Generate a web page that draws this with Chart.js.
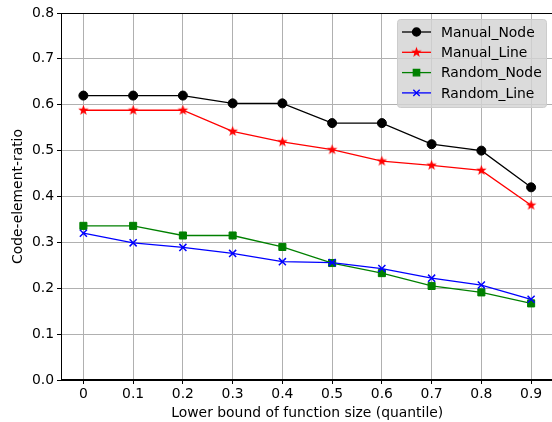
<!DOCTYPE html>
<html>
<head>
<meta charset="utf-8">
<script src="https://cdn.jsdelivr.net/npm/chart.js@4"></script>
<style>
  html, body { margin: 0; padding: 0; background: #fff; overflow: hidden; }
  #wrap { width: 570px; height: 422px; }
</style>
</head>
<body>
<div id="wrap"><canvas id="c" width="560" height="422"></canvas></div>
<script>
const quantiles = [0, 0.1, 0.2, 0.3, 0.4, 0.5, 0.6, 0.7, 0.8, 0.9];
const manualNode = [0.62, 0.62, 0.62, 0.603, 0.603, 0.56, 0.56, 0.514, 0.50, 0.42];
const manualLine = [0.588, 0.588, 0.588, 0.542, 0.519, 0.502, 0.477, 0.468, 0.457, 0.381];
const randomNode = [0.336, 0.336, 0.315, 0.315, 0.29, 0.255, 0.233, 0.205, 0.191, 0.167];
const randomLine = [0.32, 0.299, 0.289, 0.276, 0.258, 0.256, 0.243, 0.222, 0.207, 0.176];
const yTicks = [0, 0.1, 0.2, 0.3, 0.4, 0.5, 0.6, 0.7, 0.8];

const FONT = 'DejaVu Sans';
const FS = 13.9;

// filled star marker (matplotlib '*')
function makeStar(color, r) {
  const s = Math.ceil(r * 2 + 2);
  const cv = document.createElement('canvas');
  cv.width = s; cv.height = s;
  const g = cv.getContext('2d');
  g.fillStyle = color;
  g.beginPath();
  for (let i = 0; i < 10; i++) {
    const rad = i % 2 === 0 ? r : r * 0.42;
    const a = -Math.PI / 2 + i * Math.PI / 5;
    const px = s / 2 + rad * Math.cos(a), py = s / 2 + rad * Math.sin(a);
    if (i === 0) g.moveTo(px, py); else g.lineTo(px, py);
  }
  g.closePath();
  g.fill();
  return cv;
}
const star = makeStar('#ff0000', 5.5);

function pts(vals) { return quantiles.map((q, i) => ({x: q, y: vals[i]})); }

const series = [
  {label: 'Manual_Node', data: pts(manualNode), color: '#000000', pointStyle: 'circle', pointRadius: 4.5},
  {label: 'Manual_Line', data: pts(manualLine), color: '#ff0000', pointStyle: star, pointRadius: 5},
  {label: 'Random_Node', data: pts(randomNode), color: '#008000', pointStyle: 'rect', pointRadius: 5},
  {label: 'Random_Line', data: pts(randomLine), color: '#0000ff', pointStyle: 'crossRot', pointRadius: 5}
];

const frameAndLegend = {
  id: 'frameAndLegend',
  afterDatasetsDraw(chart) {
    const {ctx, chartArea: a} = chart;
    ctx.save();
    ctx.strokeStyle = '#000';
    ctx.lineWidth = 1;
    ctx.strokeRect(a.left + 0.5, a.top + 0.5, a.right - a.left - 1, a.bottom - a.top - 1);

    // legend box inside, upper right
    const bx = 397, by = 19, bw = 149, bh = 88;
    ctx.fillStyle = 'rgba(211,211,211,0.82)';
    ctx.strokeStyle = '#cccccc';
    ctx.beginPath();
    ctx.roundRect(bx + 0.5, by + 0.5, bw, bh, 3);
    ctx.fill();
    ctx.stroke();
    ctx.font = FS + 'px ' + FONT;
    ctx.textBaseline = 'middle';
    series.forEach((s, i) => {
      const y = by + 13 + i * 20.3;
      ctx.strokeStyle = s.color;
      ctx.lineWidth = 1.3;
      ctx.beginPath();
      ctx.moveTo(402, y); ctx.lineTo(431, y);
      ctx.stroke();
      if (s.pointStyle === star) {
        ctx.drawImage(star, 416.5 - star.width / 2, y - star.height / 2);
      } else {
        ctx.fillStyle = s.color;
        ctx.strokeStyle = s.color;
        Chart.helpers.drawPoint(ctx, {pointStyle: s.pointStyle, radius: s.pointRadius - 0.5, borderWidth: 1.3}, 416.5, y);
      }
      ctx.fillStyle = '#000';
      ctx.fillText(s.label, 441, y + 1);
    });
    ctx.restore();
  }
};

new Chart(document.getElementById('c'), {
  type: 'line',
  data: {
    datasets: series.map((s, i) => ({
      label: s.label,
      data: s.data,
      borderColor: s.color,
      backgroundColor: s.color,
      borderWidth: 1.3,
      pointStyle: s.pointStyle,
      pointRadius: s.pointRadius,
      pointBorderWidth: s.pointStyle === 'crossRot' ? 1.5 : 1,
      pointBorderColor: s.color,
      pointBackgroundColor: s.color,
      tension: 0,
      order: 4 - i
    }))
  },
  options: {
    responsive: false,
    animation: false,
    layout: {padding: {top: 13, right: 1, left: 10, bottom: 0}},
    plugins: {legend: {display: false}, tooltip: {enabled: false}},
    scales: {
      x: {
        type: 'linear',
        min: -0.045,
        max: 0.945,
        afterBuildTicks: axis => { axis.ticks = quantiles.map(v => ({value: v})); },
        afterFit: axis => { axis.height = 42; axis.paddingLeft = 0; axis.paddingRight = 0; },
        grid: {color: '#b0b0b0', lineWidth: 1, tickColor: '#000', tickLength: 4},
        border: {color: '#000'},
        ticks: {
          color: '#000', font: {family: FONT, size: FS}, padding: 2,
          callback: v => String(v)
        },
        title: {display: true, text: 'Lower bound of function size (quantile)', color: '#000',
          font: {family: FONT, size: FS}, padding: {top: 0, bottom: 0}}
      },
      y: {
        min: 0,
        max: 0.8,
        afterBuildTicks: axis => { axis.ticks = yTicks.map(v => ({value: v})); },
        afterFit: axis => { axis.width = 51; },
        grid: {color: '#b0b0b0', lineWidth: 1, tickColor: '#000', tickLength: 4},
        border: {color: '#000'},
        ticks: {
          color: '#000', font: {family: FONT, size: FS}, padding: 3,
          callback: v => v.toFixed(1)
        },
        title: {display: true, text: 'Code-element-ratio', color: '#000',
          font: {family: FONT, size: FS}, padding: {top: 0, bottom: 4}}
      }
    }
  },
  plugins: [frameAndLegend]
});
</script>
</body>
</html>
